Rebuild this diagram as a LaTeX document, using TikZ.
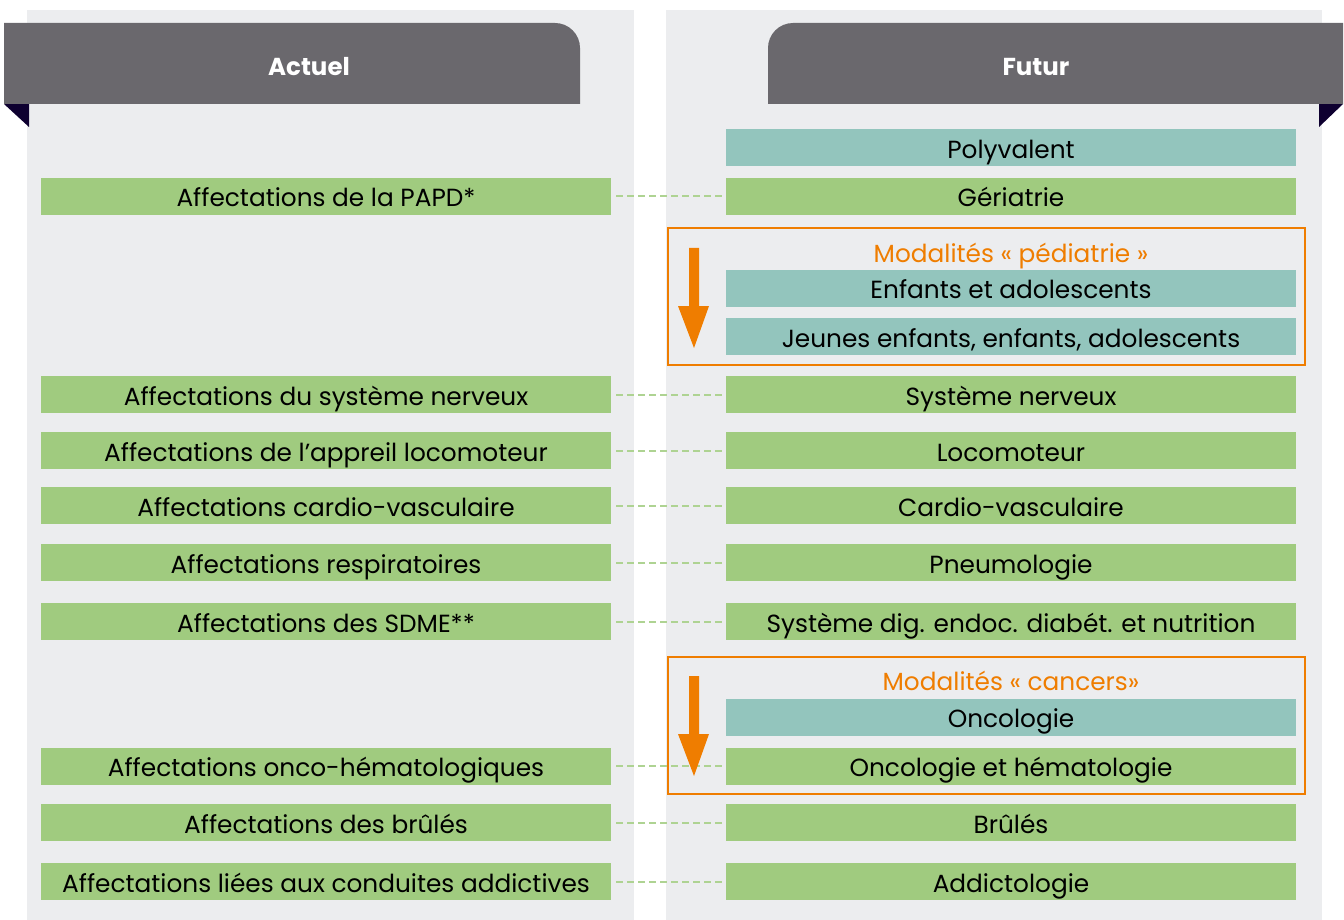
\documentclass[tikz,border=0pt]{standalone}
\usepackage{fontspec}
\setmainfont{Poppins}
\usetikzlibrary{positioning}

\definecolor{panelgrey}{HTML}{ECEDEF}
\definecolor{headgrey}{HTML}{6A686D}
\definecolor{foldblue}{HTML}{0E0030}
\definecolor{boxgreen}{HTML}{A0CB7F}
\definecolor{boxteal}{HTML}{93C5BD}
\definecolor{modorange}{HTML}{EF7D00}

\tikzset{
    rowbox/.style = {minimum width=570pt, minimum height=37pt, inner sep=0pt,
        text height=24pt, text depth=3pt, font=\fontsize{24.8}{28}\selectfont},
    actbox/.style = {rowbox, fill=boxgreen},
    futbox/.style = {rowbox, fill=boxgreen},
    newbox/.style = {rowbox, fill=boxteal},
    link/.style = {draw=boxgreen!85!white, dash pattern=on 7pt off 4pt, line width=2pt},
    modframe/.style = {draw=modorange, line width=2pt},
    modlabel/.style = {text=modorange, inner sep=0pt, text height=24pt, text depth=3pt,
        font=\fontsize{24.8}{28}\selectfont},
    headtext/.style = {text=white, font=\fontsize{24.5}{28}\selectfont\bfseries}
}

\newcommand{\downarrowmod}[2]{%
    \fill [modorange] (689,#1) -- (699,#1) -- (699,#2) -- (709,#2) -- (694,#2+42)
        -- (678,#2) -- (689,#2) -- cycle;
}

\begin{document}
\begin{tikzpicture}[x=1pt, y=-1pt]
    \useasboundingbox (0,0) rectangle (1344,920);
    % panels
    \fill [panelgrey] (27,10) rectangle (634,920);
    \fill [panelgrey] (666,10) rectangle (1322,920);
    % header tabs
    \fill [foldblue] (4,104) -- (29,104) -- (29,127) -- cycle;
    \fill [foldblue] (1343,104) -- (1319,104) -- (1319,127) -- cycle;
    \fill [headgrey] (4,104) -- (4,23) -- (555,23) arc [start angle=-90, end angle=0, radius=25]
        -- (580,104) -- cycle;
    \fill [headgrey] (1343,104) -- (1343,23) -- (793,23) arc [start angle=-90, end angle=-180, radius=25]
        -- (768,104) -- cycle;
    \node [headtext] (actuel) at (309,67) {Actuel};
    \node [headtext] (futur) at (1036,67) {Futur};

    % modalites frames
    \draw [modframe] (668,228) rectangle (1305,365);
    \draw [modframe] (668,657) rectangle (1305,794);
    \node [modlabel] (pedia) at (1011,252) {Modalités «~pédiatrie~»};
    \node [modlabel] (cancer) at (1011,680) {Modalités «~cancers»};

    % futur column
    \node [newbox] (poly) at (1011,148) {Polyvalent};
    \node [futbox] (geria) at (1011,196.5) {Gériatrie};
    \node [newbox] (enfado) at (1011,288) {Enfants et adolescents};
    \node [newbox] (jeunes) at (1011,336.5) {Jeunes enfants, enfants, adolescents};
    \node [futbox] (nerv) at (1011,394.5) {Système nerveux};
    \node [futbox] (loco) at (1011,450.5) {Locomoteur};
    \node [futbox] (cardio) at (1011,505.5) {Cardio-vasculaire};
    \node [futbox] (pneumo) at (1011,562.5) {Pneumologie};
    \node [futbox] (sdme) at (1011,621.5) {Système dig. endoc. diabét. et nutrition};
    \node [newbox] (onco) at (1011,717) {Oncologie};
    \node [futbox] (oncohem) at (1011,766) {Oncologie et hématologie};
    \node [futbox] (brules) at (1011,822.5) {Brûlés};
    \node [futbox] (addicto) at (1011,881.5) {Addictologie};

    % actuel column
    \node [actbox] (a-papd) at (326,196.5) {Affectations de la PAPD*};
    \node [actbox] (a-nerv) at (326,394.5) {Affectations du système nerveux};
    \node [actbox] (a-loco) at (326,450.5) {Affectations de l’appreil locomoteur};
    \node [actbox] (a-cardio) at (326,505.5) {Affectations cardio-vasculaire};
    \node [actbox] (a-pneumo) at (326,562.5) {Affectations respiratoires};
    \node [actbox] (a-sdme) at (326,621.5) {Affectations des SDME**};
    \node [actbox] (a-onco) at (326,766) {Affectations onco-hématologiques};
    \node [actbox] (a-brules) at (326,822.5) {Affectations des brûlés};
    \node [actbox] (a-addicto) at (326,881.5) {Affectations liées aux conduites addictives};

    % links
    \foreach \a/\b in {a-papd/geria, a-nerv/nerv, a-loco/loco, a-cardio/cardio,
        a-pneumo/pneumo, a-sdme/sdme, a-onco/oncohem, a-brules/brules, a-addicto/addicto}
        \draw [link] ([xshift=5pt]\a.east) -- ([xshift=-2pt]\b.west);

    % arrows
    \downarrowmod{248}{306}
    \downarrowmod{676}{734}
\end{tikzpicture}
\end{document}
